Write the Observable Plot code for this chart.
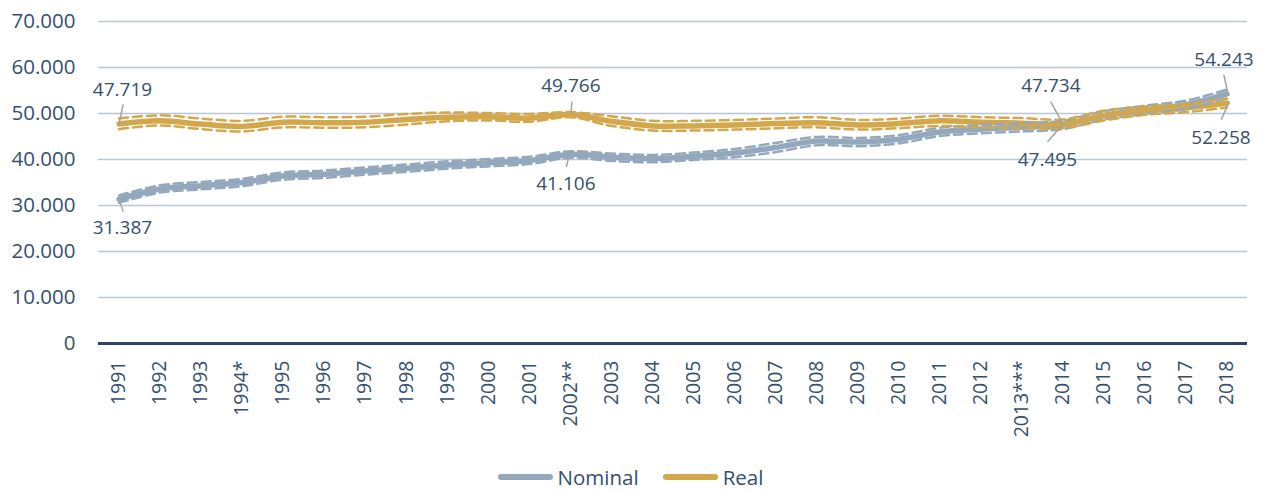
<!DOCTYPE html>
<html>
<head>
<meta charset="utf-8">
<script src="https://cdn.jsdelivr.net/npm/d3@7"></script>
<script src="https://cdn.jsdelivr.net/npm/@observablehq/plot@0.6"></script>
<style>
  html, body { margin: 0; padding: 0; background: #fff; }
  body { width: 1261px; height: 491px; overflow: hidden; font-family: "Open Sans", sans-serif; }
  #legend { display: flex; justify-content: center; align-items: center; height: 24px; margin-top: 10px; color: #34506e; font-size: 20.5px; line-height: 24px; }
  .item { display: flex; align-items: center; }
  .sw { width: 55px; height: 6px; border-radius: 3px; margin-right: 5px; }
</style>
</head>
<body>
<div id="chart"></div>
<div id="legend"></div>
<script>
// ---- data (values in thousands) ----
const years = [1991,1992,1993,1994,1995,1996,1997,1998,1999,2000,2001,2002,2003,2004,2005,2006,2007,2008,2009,2010,2011,2012,2013,2014,2015,2016,2017,2018];
const yearLabels = ["1991","1992","1993","1994*","1995","1996","1997","1998","1999","2000","2001","2002**","2003","2004","2005","2006","2007","2008","2009","2010","2011","2012","2013***","2014","2015","2016","2017","2018"];

const nominal   = [31.387,33.6,34.3,35.0,36.4,36.8,37.5,38.1,38.8,39.3,39.8,41.106,40.5,40.2,40.7,41.4,42.6,44.0,43.8,44.4,46.0,46.6,47.0,47.495,49.6,50.8,51.9,54.243];
const nominalHi = [32.2,34.4,35.1,35.8,37.2,37.6,38.3,38.9,39.6,40.1,40.6,41.8,41.3,41.0,41.5,42.3,43.6,44.9,44.7,45.3,46.9,47.5,47.9,48.4,50.5,51.7,52.8,55.2];
const nominalLo = [30.6,32.8,33.5,34.2,35.6,36.0,36.7,37.3,38.0,38.5,39.0,40.4,39.7,39.4,39.9,40.5,41.6,43.1,42.9,43.5,45.1,45.7,46.1,46.6,48.7,49.9,51.0,53.3];

const real   = [47.719,48.4,47.7,47.2,48.1,48.0,48.1,48.7,49.2,49.3,49.0,49.766,48.3,47.3,47.3,47.5,47.8,48.0,47.5,47.8,48.4,48.1,47.9,47.734,49.5,50.6,51.2,52.258];
const realHi = [48.9,49.6,48.9,48.4,49.3,49.2,49.3,49.9,50.2,50.1,49.9,50.3,49.4,48.4,48.4,48.6,48.9,49.2,48.6,48.9,49.5,49.2,49.0,48.7,50.6,51.5,52.1,53.2];
const realLo = [46.6,47.4,46.6,46.1,47.0,46.9,47.0,47.6,48.3,48.5,48.2,49.2,47.3,46.3,46.3,46.5,46.8,47.0,46.5,46.8,47.3,47.0,46.8,46.8,48.5,49.7,50.3,51.3];

const yTicks = [0,10,20,30,40,50,60,70];
const seriesNames = ["Nominal","Real"];

// labelled points
const labelYears = [1991, 2002, 2014, 2018];

// ---- styles ----
const colors = {Nominal: "#94a8bd", Real: "#d3a74b"};
const textColor = "#34506e";

// annotation layout: label offset (px) and leader start/end offsets (px) relative to the point
const annot = {
  "Real-1991":    {lab: [3.5, -34.5], s: [0, 0],    e: [4, -19]},
  "Nominal-1991": {lab: [3.5, 29],    s: [0, 0],    e: [4, 12]},
  "Real-2002":    {lab: [0.5, -28.6], s: [0.5, -1], e: [1.5, -12.5]},
  "Nominal-2002": {lab: [-4.5, 29.8], s: [-0.5, -2],e: [-4, 12]},
  "Real-2014":    {lab: [-12, -38],   s: [0, 0],    e: [-12, -22]},
  "Nominal-2014": {lab: [-15.5, 34.5],s: [-1, 0.5], e: [-15, 16.5]},
  "Nominal-2018": {lab: [-3, -34.5],  s: [1, 0],    e: [-3, -18.5]},
  "Real-2018":    {lab: [-6, 35],     s: [2, -1],   e: [-5.5, 16]}
};

const fmt = v => v === 0 ? "0" : d3.format(".3f")(v);

const mk = (name, vals, hi, lo) => years.map((y, i) => ({year: y, series: name, value: vals[i], hi: hi[i], lo: lo[i]}));
const nomRows = mk("Nominal", nominal, nominalHi, nominalLo);
const realRows = mk("Real", real, realHi, realLo);

const lineMarks = [];
for (const rows of [nomRows, realRows]) {
  const c = colors[rows[0].series];
  lineMarks.push(Plot.line(rows, {x: "year", y: "value", stroke: c, strokeWidth: 5.5, curve: "catmull-rom", strokeLinecap: "round"}));
}
for (const rows of [nomRows, realRows]) {
  const c = colors[rows[0].series];
  lineMarks.push(Plot.line(rows, {x: "year", y: "hi", stroke: c, strokeWidth: 2.5, strokeDasharray: "9,5", curve: "catmull-rom"}));
  lineMarks.push(Plot.line(rows, {x: "year", y: "lo", stroke: c, strokeWidth: 2.5, strokeDasharray: "9,5", curve: "catmull-rom"}));
}

const annMarks = [];
for (const rows of [nomRows, realRows]) {
  for (const d of rows.filter(r => labelYears.includes(r.year))) {
    const a = annot[d.series + "-" + d.year];
    const ddx = a.e[0] - a.s[0], ddy = a.e[1] - a.s[1];
    annMarks.push(Plot.vector([d], {
      x: "year", y: "value", dx: a.s[0], dy: a.s[1],
      length: Math.hypot(ddx, ddy),
      rotate: Math.atan2(ddx, -ddy) * 180 / Math.PI,
      anchor: "start",
      stroke: "#a3a3a3", strokeWidth: 1.5,
      shape: {draw(ctx, l) { ctx.moveTo(0, 0); ctx.lineTo(0, -l); }}
    }));
    annMarks.push(Plot.text([d], {
      x: "year", y: "value", text: r => d3.format(".3f")(r.value),
      dx: a.lab[0], dy: a.lab[1], fill: textColor, fontSize: 19, textAnchor: "middle", lineAnchor: "middle"
    }));
  }
}

const chart = Plot.plot({
  width: 1261,
  height: 455,
  marginLeft: 98,
  marginRight: 14,
  marginTop: 21,
  marginBottom: 112,
  style: {fontFamily: "Open Sans, sans-serif", background: "#fff", overflow: "visible"},
  x: {type: "linear", domain: [1990.5, 2018.5]},
  y: {domain: [0, 70]},
  marks: [
    Plot.ruleY(yTicks.filter(t => t > 0), {stroke: "#b9c7d5", strokeWidth: 1.5}),
    Plot.ruleY([0], {stroke: "#2d4660", strokeWidth: 3}),
    Plot.axisY({ticks: yTicks, tickSize: 0, tickPadding: 23, tickFormat: fmt, fontSize: 20.5, color: textColor, label: null}),
    Plot.axisX({ticks: years, tickSize: 0, tickPadding: 17, tickRotate: -90, fontSize: 19.5,
      tickFormat: y => yearLabels[years.indexOf(y)], color: textColor, label: null}),
    ...lineMarks,
    ...annMarks
  ]
});
chart.style.display = "block";
document.getElementById("chart").appendChild(chart);

const legend = document.getElementById("legend");
seriesNames.forEach((name, i) => {
  const item = document.createElement("div");
  item.className = "item";
  item.style.marginLeft = i ? "24px" : "0";
  const sw = document.createElement("span");
  sw.className = "sw";
  sw.style.background = colors[name];
  const t = document.createElement("span");
  t.textContent = name;
  item.appendChild(sw); item.appendChild(t);
  legend.appendChild(item);
});
</script>
</body>
</html>
